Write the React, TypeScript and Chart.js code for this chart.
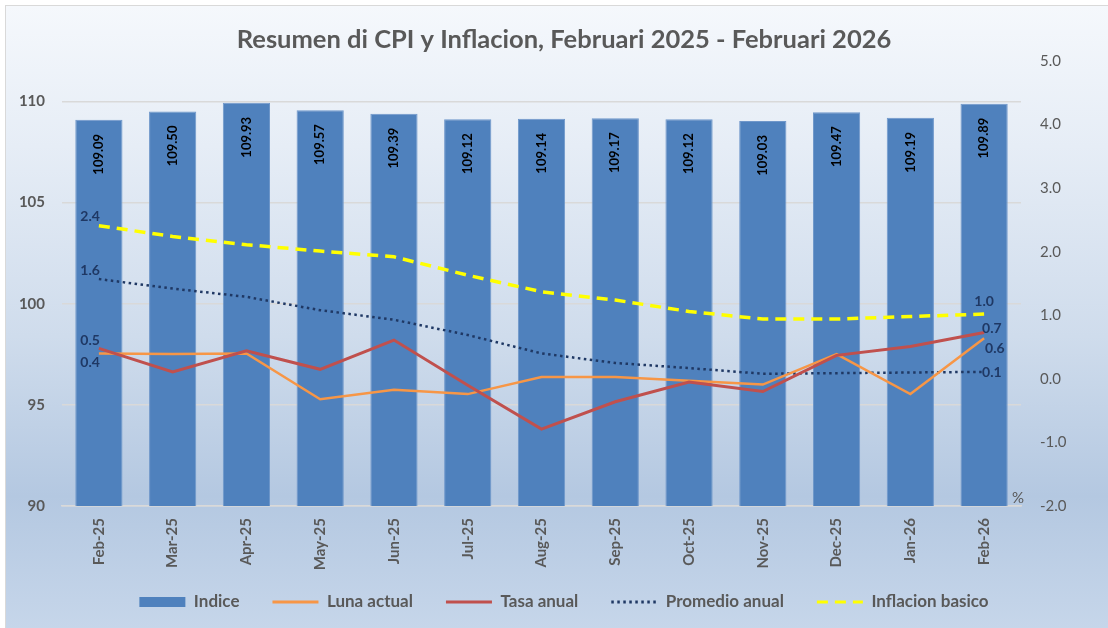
import React, { useEffect, useRef } from "react";
import { Chart, registerables } from "chart.js";

Chart.register(...registerables);

const FONT = "Lato, 'Open Sans', 'DejaVu Sans', sans-serif";

const categories = ["Feb-25", "Mar-25", "Apr-25", "May-25", "Jun-25", "Jul-25", "Aug-25", "Sep-25", "Oct-25", "Nov-25", "Dec-25", "Jan-26", "Feb-26"];
const indice = [109.09, 109.5, 109.93, 109.57, 109.39, 109.12, 109.14, 109.17, 109.12, 109.03, 109.47, 109.19, 109.89];
const lunaActual = [0.4, 0.39, 0.4, -0.32, -0.17, -0.24, 0.03, 0.03, -0.03, -0.09, 0.39, -0.24, 0.64];
const tasaAnual = [0.48, 0.11, 0.44, 0.15, 0.61, -0.1, -0.79, -0.36, -0.05, -0.2, 0.37, 0.51, 0.73];
const promedioAnual = [1.57, 1.42, 1.29, 1.08, 0.93, 0.69, 0.4, 0.25, 0.17, 0.08, 0.09, 0.1, 0.11];
const inflacionBasico = [2.41, 2.24, 2.11, 2.01, 1.92, 1.63, 1.37, 1.24, 1.06, 0.94, 0.94, 0.98, 1.02];
const leftTicks = [90, 95, 100, 105, 110];
const rightTicks = [-2, -1, 0, 1, 2, 3, 4, 5];
const seriesNames = ["Indice", "Luna actual", "Tasa anual", "Promedio anual", "Inflacion basico"];
const titleText = "Resumen di CPI y Inflacion, Februari 2025 - Februari 2026";

// end-point label placement (dataset index, point index, alignment and offsets)
const endLabels = [
  { ds: 4, idx: 0, align: "right", dx: 1, dy: -9 },
  { ds: 3, idx: 0, align: "right", dx: 1, dy: -9 },
  { ds: 2, idx: 0, align: "right", dx: 1, dy: -8 },
  { ds: 1, idx: 0, align: "right", dx: 1, dy: 9 },
  { ds: 4, idx: 12, align: "center", dx: 0, dy: -13 },
  { ds: 2, idx: 12, align: "left", dx: -2, dy: -4 },
  { ds: 1, idx: 12, align: "left", dx: 1, dy: 10 },
  { ds: 3, idx: 12, align: "left", dx: -2, dy: 1 },
];

const LEGEND_SHIFT = 11.5;

const labelPlugin = {
  id: "valueLabels",
  afterLayout(chart: any) {
    const lg = chart.legend;
    if (lg) {
      lg.top -= LEGEND_SHIFT;
      lg.bottom -= LEGEND_SHIFT;
    }
  },
  afterDatasetsDraw(chart: any) {
    const { ctx } = chart;
    const barMeta = chart.getDatasetMeta(0);
    ctx.save();
    ctx.font = `bold 13px ${FONT}`;
    ctx.fillStyle = "#000000";
    barMeta.data.forEach((el: any, i: number) => {
      const { x, y } = el.getProps(["x", "y"], true);
      ctx.save();
      ctx.translate(x, y + 14);
      ctx.rotate(-Math.PI / 2);
      ctx.textAlign = "right";
      ctx.textBaseline = "middle";
      ctx.fillText(Number(chart.data.datasets[0].data[i]).toFixed(2), 0, 0);
      ctx.restore();
    });
    ctx.font = `bold 14px ${FONT}`;
    ctx.fillStyle = "#1F3864";
    ctx.textBaseline = "middle";
    endLabels.forEach((l) => {
      const el = chart.getDatasetMeta(l.ds).data[l.idx];
      if (!el) return;
      const { x, y } = el.getProps(["x", "y"], true);
      ctx.textAlign = l.align;
      ctx.fillText(Number(chart.data.datasets[l.ds].data[l.idx]).toFixed(1), x + l.dx, y + l.dy);
    });
    const area = chart.chartArea;
    ctx.font = `15px ${FONT}`;
    ctx.fillStyle = "#595959";
    ctx.textAlign = "center";
    ctx.fillText("%", area.right - 3, area.bottom - 8);
    ctx.restore();
  },
};

export default function App() {
  const ref = useRef<HTMLCanvasElement>(null);

  useEffect(() => {
    if (!ref.current) return;
    const chart = new Chart(ref.current, {
      type: "bar",
      data: {
        labels: categories,
        datasets: [
          {
            type: "bar",
            label: seriesNames[0],
            data: indice,
            yAxisID: "y",
            backgroundColor: "#4F81BD",
            borderColor: "#6F97CA",
            borderWidth: 1,
            barPercentage: 0.64,
            categoryPercentage: 1,
            order: 10,
          },
          {
            type: "line",
            label: seriesNames[1],
            data: lunaActual,
            yAxisID: "y1",
            borderColor: "#F79646",
            backgroundColor: "#F79646",
            borderWidth: 2.5,
            pointRadius: 0,
            tension: 0,
            order: 2,
          },
          {
            type: "line",
            label: seriesNames[2],
            data: tasaAnual,
            yAxisID: "y1",
            borderColor: "#C0504D",
            backgroundColor: "#C0504D",
            borderWidth: 3,
            pointRadius: 0,
            tension: 0,
            order: 1,
          },
          {
            type: "line",
            label: seriesNames[3],
            data: promedioAnual,
            yAxisID: "y1",
            borderColor: "#1F3864",
            backgroundColor: "#1F3864",
            borderWidth: 2.5,
            borderDash: [2.5, 3.5],
            pointRadius: 0,
            tension: 0,
            order: 4,
          },
          {
            type: "line",
            label: seriesNames[4],
            data: inflacionBasico,
            yAxisID: "y1",
            borderColor: "#FFFF00",
            backgroundColor: "#FFFF00",
            borderWidth: 3.5,
            borderDash: [11, 7],
            pointRadius: 0,
            tension: 0,
            order: 3,
          },
        ] as any,
      },
      options: {
        responsive: false,
        animation: false,
        devicePixelRatio: 1,
        layout: { padding: { left: 10, right: -10, top: 0, bottom: -4 } },
        plugins: {
          title: {
            display: true,
            text: titleText,
            color: "#595959",
            font: { family: FONT, size: 25.5, weight: "bold", lineHeight: 1.2 },
            padding: { top: 24.7, bottom: 5.7 },
          },
          legend: {
            position: "bottom",
            labels: {
              color: "#595959",
              font: { family: FONT, size: 17, weight: "bold" },
              usePointStyle: true,
              pointStyleWidth: 46,
              boxHeight: 10,
              padding: 33,
              generateLabels: (c: any) => {
                const items = (Chart.defaults.plugins.legend.labels as any).generateLabels(c);
                items.sort((a: any, b: any) => a.datasetIndex - b.datasetIndex);
                return items.map((it: any) => {
                  const ds: any = c.data.datasets[it.datasetIndex];
                  if (ds.type === "bar") {
                    return { ...it, pointStyle: "rect", lineWidth: 0, fillStyle: ds.backgroundColor, strokeStyle: ds.backgroundColor };
                  }
                  return {
                    ...it,
                    pointStyle: "line",
                    lineWidth: 3,
                    strokeStyle: ds.borderColor,
                    fillStyle: ds.borderColor,
                    lineDash: ds.borderDash || [],
                    lineCap: "butt",
                  };
                });
              },
            },
          },
          tooltip: { enabled: false },
        },
        scales: {
          x: {
            offset: true,
            grid: { display: false, drawTicks: false },
            border: { display: true, color: "#D9D9D9", width: 1.5 },
            ticks: {
              minRotation: 90,
              maxRotation: 90,
              autoSkip: false,
              padding: 12,
              color: "#595959",
              font: { family: FONT, size: 15, weight: "bold" },
            },
            afterFit: (s: any) => {
              s.height = 66;
            },
          },
          y: {
            position: "left",
            min: 90,
            max: 112,
            afterBuildTicks: (s: any) => {
              s.ticks = leftTicks.map((v) => ({ value: v }));
            },
            grid: { color: "#D9D9D9", drawTicks: false, lineWidth: 1.5 },
            border: { display: false },
            ticks: {
              padding: 17,
              color: "#595959",
              font: { family: FONT, size: 15, weight: "bold" },
            },
            afterFit: (s: any) => {
              s.width = 52;
            },
          },
          y1: {
            position: "right",
            min: -2,
            max: 5,
            afterBuildTicks: (s: any) => {
              s.ticks = rightTicks.map((v) => ({ value: v }));
            },
            grid: { display: false, drawTicks: false },
            border: { display: false },
            ticks: {
              padding: 19,
              color: "#595959",
              font: { family: FONT, size: 15 },
              callback: (v: any) => Number(v).toFixed(1),
            },
            afterFit: (s: any) => {
              s.width = 97;
            },
          },
        },
      },
      plugins: [labelPlugin as any],
    });
    return () => chart.destroy();
  }, []);

  return (
    <div style={{ position: "fixed", left: 0, top: 0, width: 1108, height: 628, overflow: "hidden", background: "#ffffff" }}>
      <div
        style={{
          position: "absolute",
          left: 5,
          top: 5,
          width: 1130,
          height: 650,
          border: "1px solid #D9D9D9",
          background:
            "linear-gradient(to bottom, #F5F8FC 0px, #E6EDF6 140px, #CFDCEC 330px, #B4C8E1 490px, #C6D6EA 623px)",
        }}
      />
      <canvas ref={ref} width={1108} height={628} style={{ position: "absolute", left: 0, top: 0 }} />
    </div>
  );
}
